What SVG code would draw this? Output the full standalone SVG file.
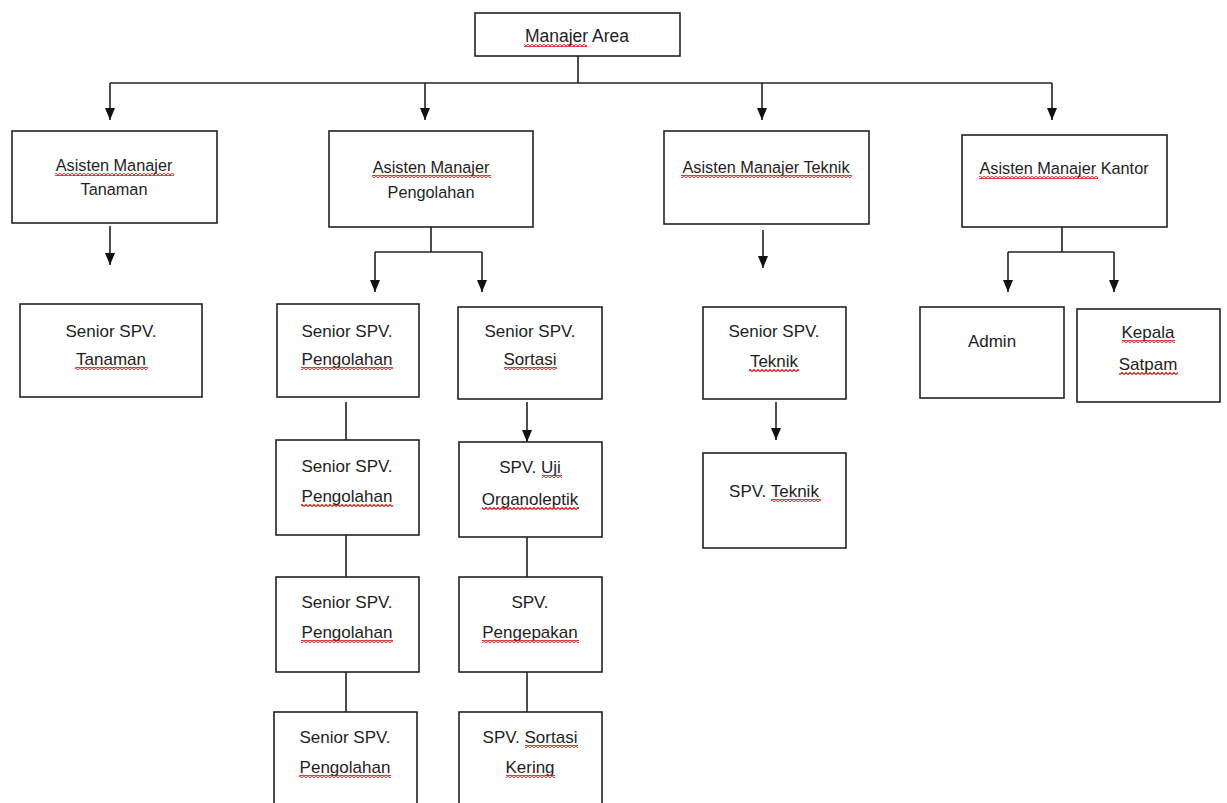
<svg xmlns="http://www.w3.org/2000/svg" width="1227" height="803" viewBox="0 0 1227 803">
<defs>
<marker id="ah" viewBox="0 0 12 10" refX="12" refY="5" markerWidth="12" markerHeight="10" markerUnits="userSpaceOnUse" orient="auto">
<path d="M0,0 L12,5 L0,10 z" fill="#111"/>
</marker>
<pattern id="sq" width="4" height="3" patternUnits="userSpaceOnUse">
<path d="M0,2.5 L2,0.5 L4,2.5" fill="none" stroke="#e01010" stroke-width="1.2"/>
</pattern>
</defs>
<style>
.box{fill:#fff;stroke:#222;stroke-width:1.6}
.t{font-family:"Liberation Sans",Arial,sans-serif;fill:#1e1e1e;text-anchor:middle}
.t1{font-size:17.5px}
.t2{font-size:16.3px}
.t3{font-size:17px}
.sq{fill:url(#sq)}
.c{fill:none;stroke:#222;stroke-width:1.6}
.a{marker-end:url(#ah)}
</style>
<rect width="1227" height="803" fill="#fff"/>

<g id="connectors">
<path class="c" d="M578 56 V83"/>
<path class="c" d="M110 83 H1052"/>
<path class="c a" d="M110 83 V120"/>
<path class="c a" d="M425 83 V120"/>
<path class="c a" d="M762 83 V120"/>
<path class="c a" d="M1052 83 V120"/>
<path class="c a" d="M110 226 V265"/>
<path class="c" d="M431 227 V252 M375 252 H482"/>
<path class="c a" d="M375 252 V292"/>
<path class="c a" d="M482 252 V292"/>
<path class="c" d="M346 402 V440 M346 535 V577 M346 672 V712"/>
<path class="c a" d="M527 402 V442"/>
<path class="c" d="M527 537 V577 M527 672 V712"/>
<path class="c a" d="M763 230 V268"/>
<path class="c a" d="M776 402 V440"/>
<path class="c" d="M1062 227 V252 M1008 252 H1114"/>
<path class="c a" d="M1008 252 V292"/>
<path class="c a" d="M1114 252 V292"/>
</g>

<g id="manajer-area">
<rect class="box" x="475" y="13" width="205" height="43"/>
<text class="t t1" x="577" y="42">Manajer Area</text>
<rect class="sq" x="524" y="44" width="63" height="3"/>
</g>

<g id="am-tanaman">
<rect class="box" x="12" y="131" width="205" height="92"/>
<text class="t t2" x="114" y="171">Asisten Manajer</text>
<text class="t t2" x="114" y="195">Tanaman</text>
<rect class="sq" x="55" y="173" width="119" height="3"/>
</g>

<g id="am-pengolahan">
<rect class="box" x="329" y="131" width="204" height="96"/>
<text class="t t2" x="431" y="173">Asisten Manajer</text>
<text class="t t2" x="431" y="198">Pengolahan</text>
<rect class="sq" x="372" y="175" width="119" height="3"/>
</g>

<g id="am-teknik">
<rect class="box" x="664" y="131" width="205" height="93"/>
<text class="t t2" x="766" y="173">Asisten Manajer Teknik</text>
<rect class="sq" x="681" y="175" width="171" height="3"/>
</g>

<g id="am-kantor">
<rect class="box" x="962" y="135" width="205" height="92"/>
<text class="t t2" x="1064" y="174">Asisten Manajer Kantor</text>
<rect class="sq" x="979" y="176" width="119" height="3"/>
</g>

<g id="ss-tanaman">
<rect class="box" x="20" y="304" width="182" height="93"/>
<text class="t t3" x="111" y="337">Senior SPV.</text>
<text class="t t3" x="111" y="365">Tanaman</text>
<rect class="sq" x="75" y="367" width="73" height="3"/>
</g>

<g id="ss-pengolahan-1">
<rect class="box" x="277" y="304" width="142" height="93"/>
<text class="t t3" x="347" y="337">Senior SPV.</text>
<text class="t t3" x="347" y="365">Pengolahan</text>
<rect class="sq" x="301" y="367" width="92" height="3"/>
</g>

<g id="ss-pengolahan-2">
<rect class="box" x="276" y="440" width="143" height="95"/>
<text class="t t3" x="347" y="472">Senior SPV.</text>
<text class="t t3" x="347" y="502">Pengolahan</text>
<rect class="sq" x="301" y="504" width="92" height="3"/>
</g>

<g id="ss-pengolahan-3">
<rect class="box" x="276" y="577" width="143" height="95"/>
<text class="t t3" x="347" y="608">Senior SPV.</text>
<text class="t t3" x="347" y="638">Pengolahan</text>
<rect class="sq" x="301" y="640" width="92" height="3"/>
</g>

<g id="ss-pengolahan-4">
<rect class="box" x="274" y="712" width="143" height="100"/>
<text class="t t3" x="345" y="743">Senior SPV.</text>
<text class="t t3" x="345" y="773">Pengolahan</text>
<rect class="sq" x="299" y="775" width="92" height="3"/>
</g>

<g id="ss-sortasi">
<rect class="box" x="458" y="307" width="144" height="92"/>
<text class="t t3" x="530" y="337">Senior SPV.</text>
<text class="t t3" x="530" y="365">Sortasi</text>
<rect class="sq" x="504" y="367" width="53" height="3"/>
</g>

<g id="spv-uji">
<rect class="box" x="459" y="442" width="143" height="95"/>
<text class="t t3" x="530" y="473">SPV. Uji</text>
<text class="t t3" x="530" y="505">Organoleptik</text>
<rect class="sq" x="542" y="475" width="20" height="3"/>
<rect class="sq" x="482" y="507" width="97" height="3"/>
</g>

<g id="spv-pengepakan">
<rect class="box" x="459" y="577" width="143" height="95"/>
<text class="t t3" x="530" y="608">SPV.</text>
<text class="t t3" x="530" y="638">Pengepakan</text>
<rect class="sq" x="482" y="640" width="97" height="3"/>
</g>

<g id="spv-sortasi-kering">
<rect class="box" x="459" y="712" width="143" height="100"/>
<text class="t t3" x="530" y="743">SPV. Sortasi</text>
<text class="t t3" x="530" y="773">Kering</text>
<rect class="sq" x="525" y="745" width="53" height="3"/>
<rect class="sq" x="506" y="775" width="49" height="3"/>
</g>

<g id="ss-teknik">
<rect class="box" x="703" y="307" width="143" height="92"/>
<text class="t t3" x="774" y="337">Senior SPV.</text>
<text class="t t3" x="774" y="367">Teknik</text>
<rect class="sq" x="749" y="369" width="50" height="3"/>
</g>

<g id="spv-teknik">
<rect class="box" x="703" y="453" width="143" height="95"/>
<text class="t t3" x="774" y="497">SPV. Teknik</text>
<rect class="sq" x="771" y="499" width="50" height="3"/>
</g>

<g id="admin">
<rect class="box" x="920" y="307" width="144" height="91"/>
<text class="t t3" x="992" y="347">Admin</text>
</g>

<g id="kepala-satpam">
<rect class="box" x="1077" y="309" width="143" height="93"/>
<text class="t t3" x="1148" y="338">Kepala</text>
<text class="t t3" x="1148" y="370">Satpam</text>
<rect class="sq" x="1122" y="340" width="53" height="3"/>
<rect class="sq" x="1119" y="372" width="59" height="3"/>
</g>
</svg>
